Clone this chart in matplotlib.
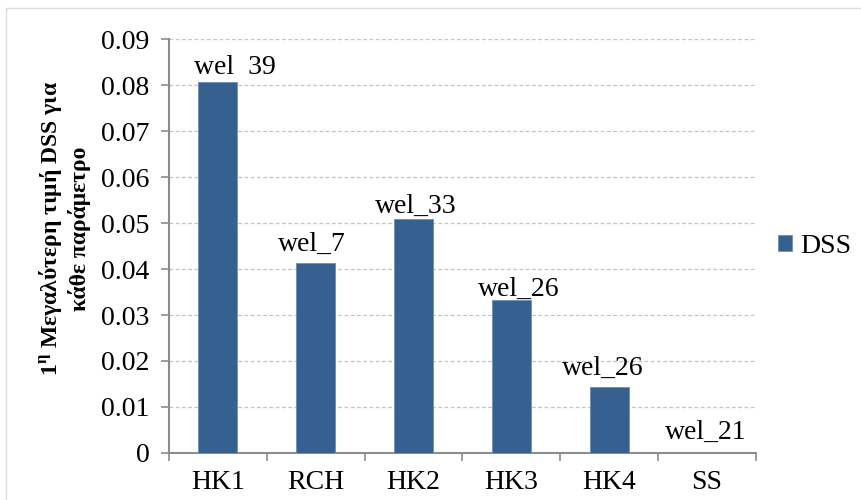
import matplotlib
matplotlib.use("Agg")
import matplotlib.pyplot as plt
from matplotlib.patches import Rectangle

categories = ["HK1", "RCH", "HK2", "HK3", "HK4", "SS"]
dss_values = [0.0807, 0.0413, 0.0508, 0.0333, 0.0143, 0.0]
well_labels = ["wel  39", "wel_7", "wel_33", "wel_26", "wel_26", "wel_21"]
# label nudges (points) relative to the bar top, text baseline anchored
label_dx = [12, -2.7, 1.4, 5, -4.3, -1]
label_dy = [5.8, 8.6, 4.3, 2.9, 8.6, 10]
y_ticks = [0, 0.01, 0.02, 0.03, 0.04, 0.05, 0.06, 0.07, 0.08, 0.09]

plt.rcParams["font.family"] = ["Liberation Serif", "DejaVu Serif"]
plt.rcParams["mathtext.fontset"] = "custom"
plt.rcParams["mathtext.rm"] = "Liberation Serif"
plt.rcParams["mathtext.bf"] = "Liberation Serif:bold"

bar_color = "#36608F"
axis_gray = "#8C8C8C"
fs = 20

fig = plt.figure(figsize=(8.61, 5.0), dpi=100)
fig.patches.append(Rectangle((6 / 861, -0.1), 1.2, 1.1 - 8 / 500,
                             transform=fig.transFigure, fill=False,
                             edgecolor="#DCDCDC", linewidth=1.0))

ax = fig.add_axes([169 / 861, 1 - 453 / 500, (756 - 169) / 861, (453 - 39) / 500])
x = list(range(len(categories)))
bars = ax.bar(x, dss_values, width=0.4, color=bar_color,
              edgecolor="#6E8FB8", linewidth=0.6, label="DSS", zorder=3)

for xi, v, lab, dx, dy in zip(x, dss_values, well_labels, label_dx, label_dy):
    ax.annotate(lab, (xi, v), xytext=(dx, dy), textcoords="offset points",
                ha="center", va="baseline", fontsize=fs, color="black", zorder=4)

ax.set_xlim(-0.5, len(categories) - 0.5)
ax.set_ylim(0, 0.09)
ax.set_yticks(y_ticks)
ax.set_yticklabels([f"{t:g}" for t in y_ticks])
ax.set_xticks(x)
ax.set_xticklabels(categories)
ax.set_xticks([i - 0.5 for i in range(len(categories) + 1)], minor=True)
ax.tick_params(axis="x", which="major", length=0, pad=12, labelsize=fs)
ax.tick_params(axis="x", which="minor", length=6, width=1.2, color=axis_gray,
               direction="out")
ax.tick_params(axis="y", length=6, width=1.2, color=axis_gray, pad=8,
               labelsize=fs)

for t in y_ticks[1:]:
    ax.axhline(t, color="#C4C4C4", linewidth=0.9, linestyle=(0, (3, 2)), zorder=1)

for side in ("top", "right"):
    ax.spines[side].set_visible(False)
for side in ("left", "bottom"):
    ax.spines[side].set_color(axis_gray)
    ax.spines[side].set_linewidth(1.5)

fig.text(64 / 861, 1 - 229 / 500,
         "1$^{\\mathbf{η}}$ Μεγαλύτερη τιμή DSS για\nκάθε παράμετρο",
         rotation=90, ha="center", va="center", fontsize=17,
         fontweight="bold", linespacing=1.2, multialignment="center")

ax.legend(loc="center left", bbox_to_anchor=(1.0, 0.5), frameon=False,
          fontsize=fs, handlelength=0.5, handleheight=0.5, handletextpad=0.3,
          borderaxespad=0.4)

fig.savefig("out.png", dpi=100, facecolor="white")
